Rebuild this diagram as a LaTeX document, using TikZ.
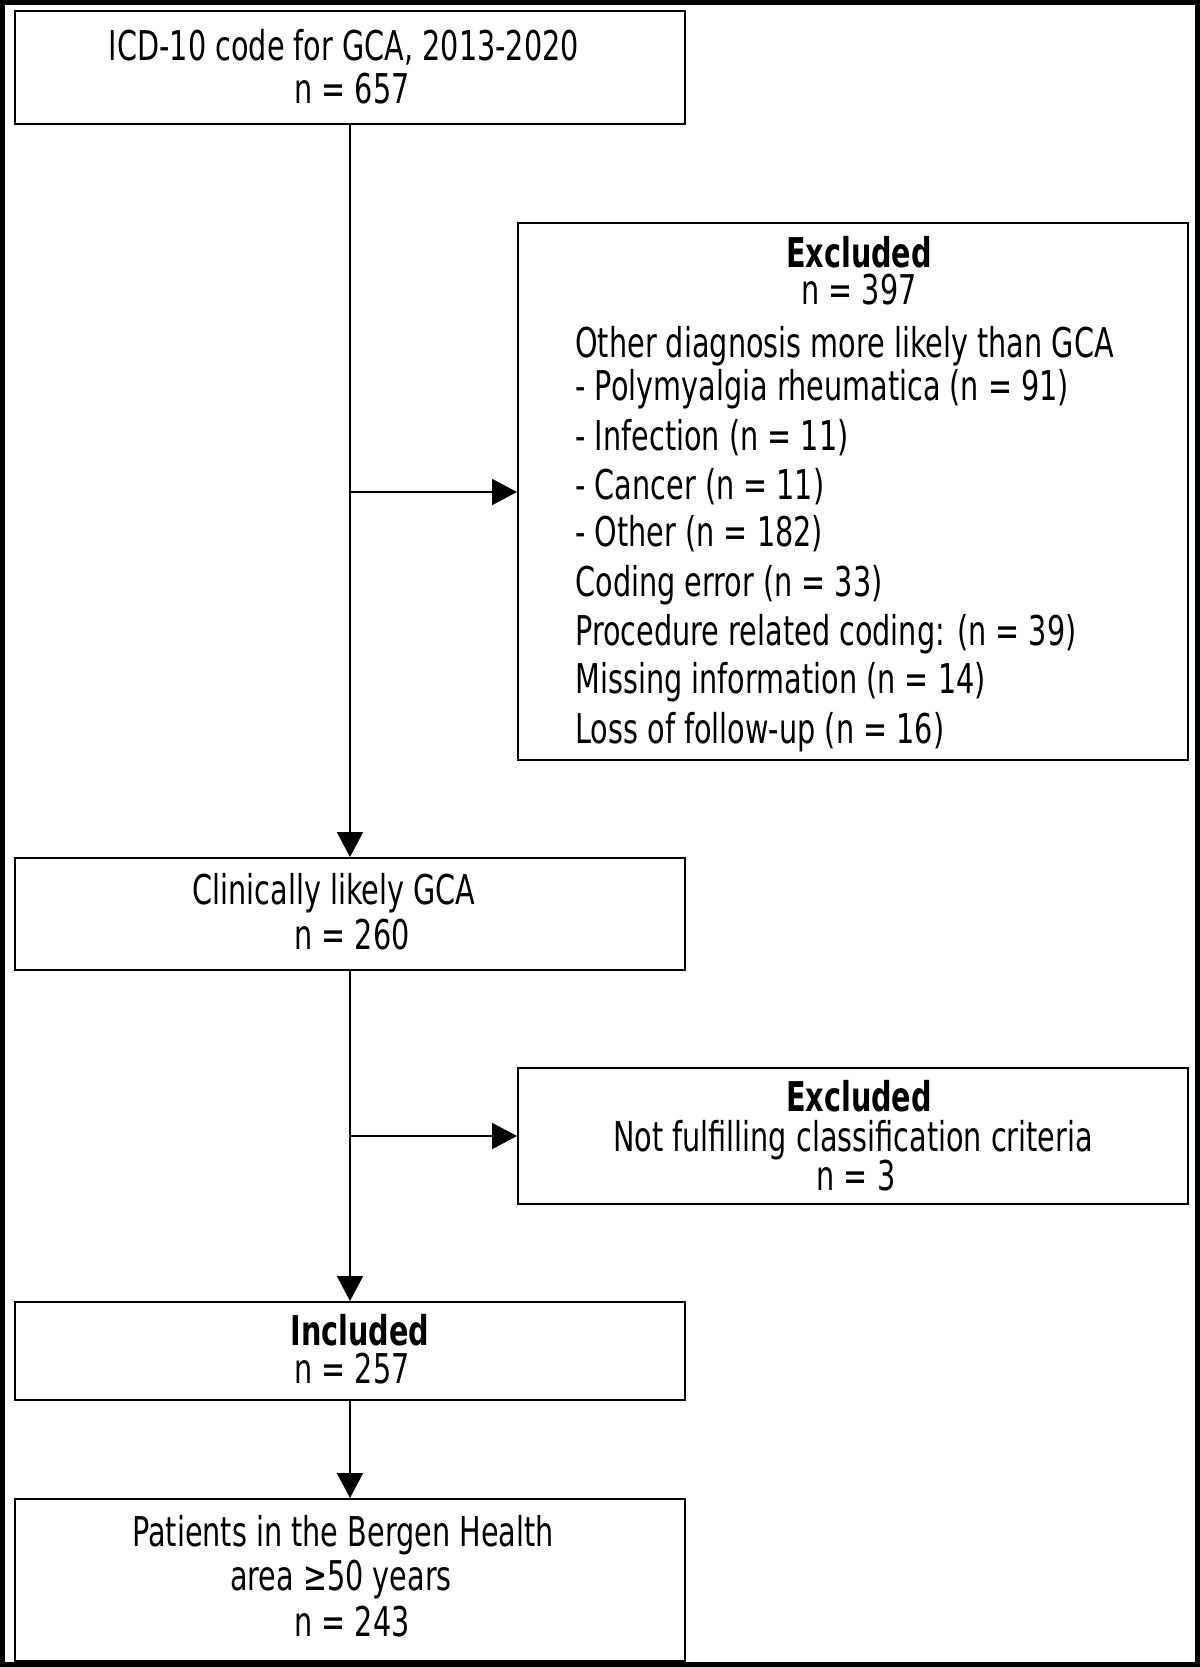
\documentclass[tikz,border=0pt]{standalone}
\usepackage{fontspec}
\setmainfont[FakeStretch=0.70]{DejaVu Sans}
\usetikzlibrary{arrows.meta}

\begin{document}
\begin{tikzpicture}
    [x=0.5pt,y=-0.5pt,
     box/.style={draw,line width=1pt,inner sep=0pt,anchor=north west,minimum width=335pt},
     txt/.style={font=\fontsize{20.5}{24.5}\selectfont,inner sep=0pt,anchor=mid},
     item/.style={txt,anchor=mid west},
     flow/.style={line width=1pt,-{Triangle[length=12.5pt,width=13pt]}}]
    %frame round the whole picture
    \useasboundingbox (0,0) rectangle (1200,1667);
    \draw[line width=2.5pt] (2.5,2.5) rectangle (1197.5,1664.5);

    %the boxes
    \node[box,minimum height=56.5pt] (icd)   at (14,10)   {};
    \node[box,minimum height=268.5pt] (excla) at (517,222) {};
    \node[box,minimum height=56pt]   (clin)  at (14,857)  {};
    \node[box,minimum height=68pt]   (exclb) at (517,1067) {};
    \node[box,minimum height=49pt]   (incl)  at (14,1301) {};
    \node[box,minimum height=81pt]   (area)  at (14,1498) {};

    %texts of the left column
    \node[txt] (icdA)  at (344,55)   {ICD-10 code for GCA, 2013-2020};
    \node[txt] (icdN)  at (352,98)   {n = 657};
    \node[txt] (clinA) at (334,899)  {Clinically likely GCA};
    \node[txt] (clinN) at (352,944)  {n = 260};
    \node[txt] (inclA) at (360,1340) {\bfseries Included};
    \node[txt] (inclN) at (352,1378) {n = 257};
    \node[txt] (areaA) at (343,1541) {Patients in the Bergen Health};
    \node[txt] (areaB) at (341,1585) {area ≥50 years};
    \node[txt] (areaN) at (352,1631) {n = 243};

    %texts of the first excluded box
    \node[txt]  (exaT) at (859,262) {\bfseries Excluded};
    \node[txt]  (exaN) at (859,299) {n = 397};
    \node[item] (exa1) at (575,352) {Other diagnosis more likely than GCA};
    \node[item] (exa2) at (575,395) {- Polymyalgia rheumatica (n = 91)};
    \node[item] (exa3) at (575,445) {- Infection (n = 11)};
    \node[item] (exa4) at (575,494) {- Cancer (n = 11)};
    \node[item] (exa5) at (575,541) {- Other (n = 182)};
    \node[item] (exa6) at (575,591) {Coding error (n = 33)};
    \node[item] (exa7) at (575,640) {Procedure related coding: (n = 39)};
    \node[item] (exa8) at (575,688) {Missing information (n = 14)};
    \node[item] (exa9) at (575,738) {Loss of follow-up (n = 16)};

    %texts of the second excluded box
    \node[txt] (exbT) at (859,1106) {\bfseries Excluded};
    \node[txt] (exbA) at (853,1146) {Not fulfilling classification criteria};
    \node[txt] (exbN) at (856,1185) {n = 3};

    %the spine and the side arrows
    \coordinate (sa) at (349,492);
    \coordinate (sb) at (349,1136);
    \draw[flow] (icd.south)  -- (clin.north);
    \draw[flow] (clin.south) -- (incl.north);
    \draw[flow] (incl.south) -- (area.north);
    \draw[flow] (sa) -- (sa -| excla.west);
    \draw[flow] (sb) -- (sb -| exclb.west);
\end{tikzpicture}
\end{document}
